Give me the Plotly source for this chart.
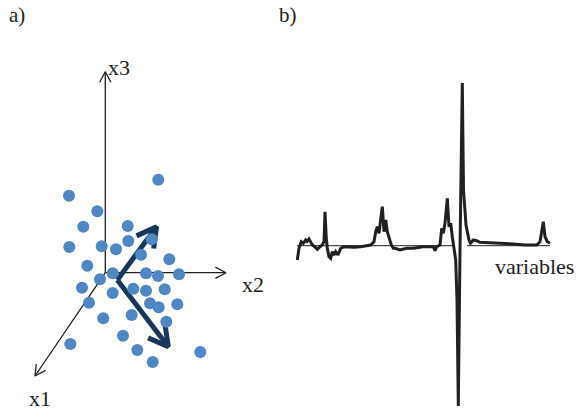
import math
import plotly.graph_objects as go

# ---------------- data (pixel-space diagram coordinates) ----------------
# panel a: sample points
dot_x = [69, 158.3, 97.3, 83.3, 127.7, 69.3, 101.7, 116, 128.3, 151.7, 141, 169.3,
         87.3, 112.7, 146, 158, 179, 100, 82, 112.7, 133.3, 146, 164.7, 89, 150,
         158.7, 177.3, 131.7, 103.3, 166.3, 123, 70.3, 137.3, 152.7, 200.3]
dot_y = [195.7, 179.7, 211.3, 226.7, 226, 247, 246.3, 249.3, 241, 239.3, 254.7, 259.3,
         265.7, 273.3, 273.3, 276, 274.3, 279.3, 287.7, 293, 288.7, 290.7, 289.3, 302.7, 303.3,
         307.3, 304.3, 315, 318.3, 321.7, 335.7, 344, 350, 362, 352]

# panel a: coordinate axes (origin -> tip), labels
axis_origin = (105.3, 272.7)
axis_tips = {"x3": (105.3, 71.7), "x2": (226, 272.7), "x1": (35, 376)}
axis_label_pos = {"x3": (119, 67), "x2": (253, 284), "x1": (40, 398)}

# panel a: principal direction arrows
pc_vertex = (117.3, 280)
pc_tips = [(156.5, 226.7), (168.3, 346.7)]

# panel b: loading profile over variables
sig_x = [297.3, 299, 301.3, 303.3, 305.7, 307, 309, 312.3, 314.7, 317.3, 320, 322.3, 324,
         325, 326.3, 327.3, 329, 330.7, 332.3, 334, 335.7, 338, 340.7, 344, 354, 360.7,
         370.7, 374, 375.7, 377.3, 379, 380.7, 382.3, 384, 385.7, 387.3, 389, 391.3, 393.3,
         395, 400, 406.7, 413.3, 423.3, 433.3, 435, 436.7, 440, 441.7, 443.3, 445, 447.3,
         449, 450.7, 452.3, 454, 455.7, 457, 458.3, 460, 462.3, 463.5, 466, 469, 470.5,
         473.3, 476.7, 480, 490, 503.3, 513.3, 525, 536.7, 540, 541.7, 543.3, 545, 547.3, 550]
sig_y = [260, 248.3, 241.7, 243.3, 240, 241.5, 239, 245, 246.7, 249.3, 246.7, 245, 241.7,
         211.7, 238.3, 248.3, 256.7, 258.3, 251.7, 255, 251.7, 255, 248.3, 246.7, 247.3, 246.7,
         245, 241.7, 231.7, 226.7, 233.3, 221.7, 206.7, 231.7, 220, 231.7, 238.3, 245, 248.3,
         248.3, 250, 248.3, 248.3, 246.7, 246.7, 250.7, 246.7, 245, 228.3, 233.3, 223.3, 198.3,
         226.7, 223.3, 236.7, 246.7, 260, 300, 406, 250, 83, 190, 225, 240, 243.3,
         240, 240.7, 242.3, 242.7, 243.3, 244, 245, 245, 241.7, 233.3, 221.7, 236.7, 241.7, 243.3]
baseline_y = 245.7
baseline_segments = [(297, 455), (467, 550)]

panel_labels = [("a)", 17, 15), ("b)", 288, 15)]
axis_name_text = "variables"
axis_name_pos = (534, 266)

DOT_COLOR = "#4f86c6"
ARROW_COLOR = "#17375e"
INK = "#231f20"
FONT = "Liberation Serif"


def head(tip, base, length, angle_deg):
    dx, dy = tip[0] - base[0], tip[1] - base[1]
    n = math.hypot(dx, dy)
    ux, uy = dx / n, dy / n
    xs, ys = [], []
    for s in (1, -1):
        a = math.radians(angle_deg) * s
        rx = ux * math.cos(a) - uy * math.sin(a)
        ry = ux * math.sin(a) + uy * math.cos(a)
        xs.append(tip[0] - rx * length)
        ys.append(tip[1] - ry * length)
    return [xs[0], tip[0], xs[1]], [ys[0], tip[1], ys[1]]


fig = go.Figure()

# coordinate axes
for name, tip in axis_tips.items():
    fig.add_trace(go.Scatter(x=[axis_origin[0], tip[0]], y=[axis_origin[1], tip[1]],
                             mode="lines", line=dict(color=INK, width=1.3),
                             hoverinfo="skip", showlegend=False))
    hx, hy = head(tip, axis_origin, 12, 28)
    fig.add_trace(go.Scatter(x=hx, y=hy, mode="lines", line=dict(color=INK, width=1.3),
                             hoverinfo="skip", showlegend=False))

# principal directions
for tip in pc_tips:
    fig.add_trace(go.Scatter(x=[pc_vertex[0], tip[0]], y=[pc_vertex[1], tip[1]],
                             mode="lines", line=dict(color=ARROW_COLOR, width=5),
                             hoverinfo="skip", showlegend=False))
    hx, hy = head(tip, pc_vertex, 22, 29)
    fig.add_trace(go.Scatter(x=hx, y=hy, mode="lines", line=dict(color=ARROW_COLOR, width=5),
                             hoverinfo="skip", showlegend=False))

# points
fig.add_trace(go.Scatter(x=dot_x, y=dot_y, mode="markers",
                         marker=dict(color=DOT_COLOR, size=12, line=dict(width=0)),
                         showlegend=False))

# panel b baseline
for x0, x1 in baseline_segments:
    fig.add_trace(go.Scatter(x=[x0, x1], y=[baseline_y, baseline_y], mode="lines",
                             line=dict(color=INK, width=1), hoverinfo="skip", showlegend=False))

# panel b signal
fig.add_trace(go.Scatter(x=sig_x, y=sig_y, mode="lines",
                         line=dict(color=INK, width=3), showlegend=False))

annots = []
for name, (x, y) in axis_label_pos.items():
    annots.append(dict(x=x, y=y, text=name, showarrow=False, xanchor="center", yanchor="middle",
                       font=dict(family=FONT, size=22, color=INK)))
for t, x, y in panel_labels:
    annots.append(dict(x=x, y=y, text=t, showarrow=False, xanchor="center", yanchor="middle",
                       font=dict(family=FONT, size=21, color=INK)))
annots.append(dict(x=axis_name_pos[0], y=axis_name_pos[1], text=axis_name_text, showarrow=False,
                   xanchor="center", yanchor="middle",
                   font=dict(family=FONT, size=22, color=INK)))

fig.update_layout(
    width=578, height=414,
    margin=dict(l=0, r=0, t=0, b=0),
    paper_bgcolor="white", plot_bgcolor="white",
    font=dict(family=FONT),
    xaxis=dict(range=[0, 578], visible=False, fixedrange=True),
    yaxis=dict(range=[414, 0], visible=False, fixedrange=True),
    annotations=annots,
    showlegend=False,
)

fig.write_html("out.html", config={"displayModeBar": False},
               post_script="document.body.style.margin='0px';document.body.style.overflow='hidden';")
